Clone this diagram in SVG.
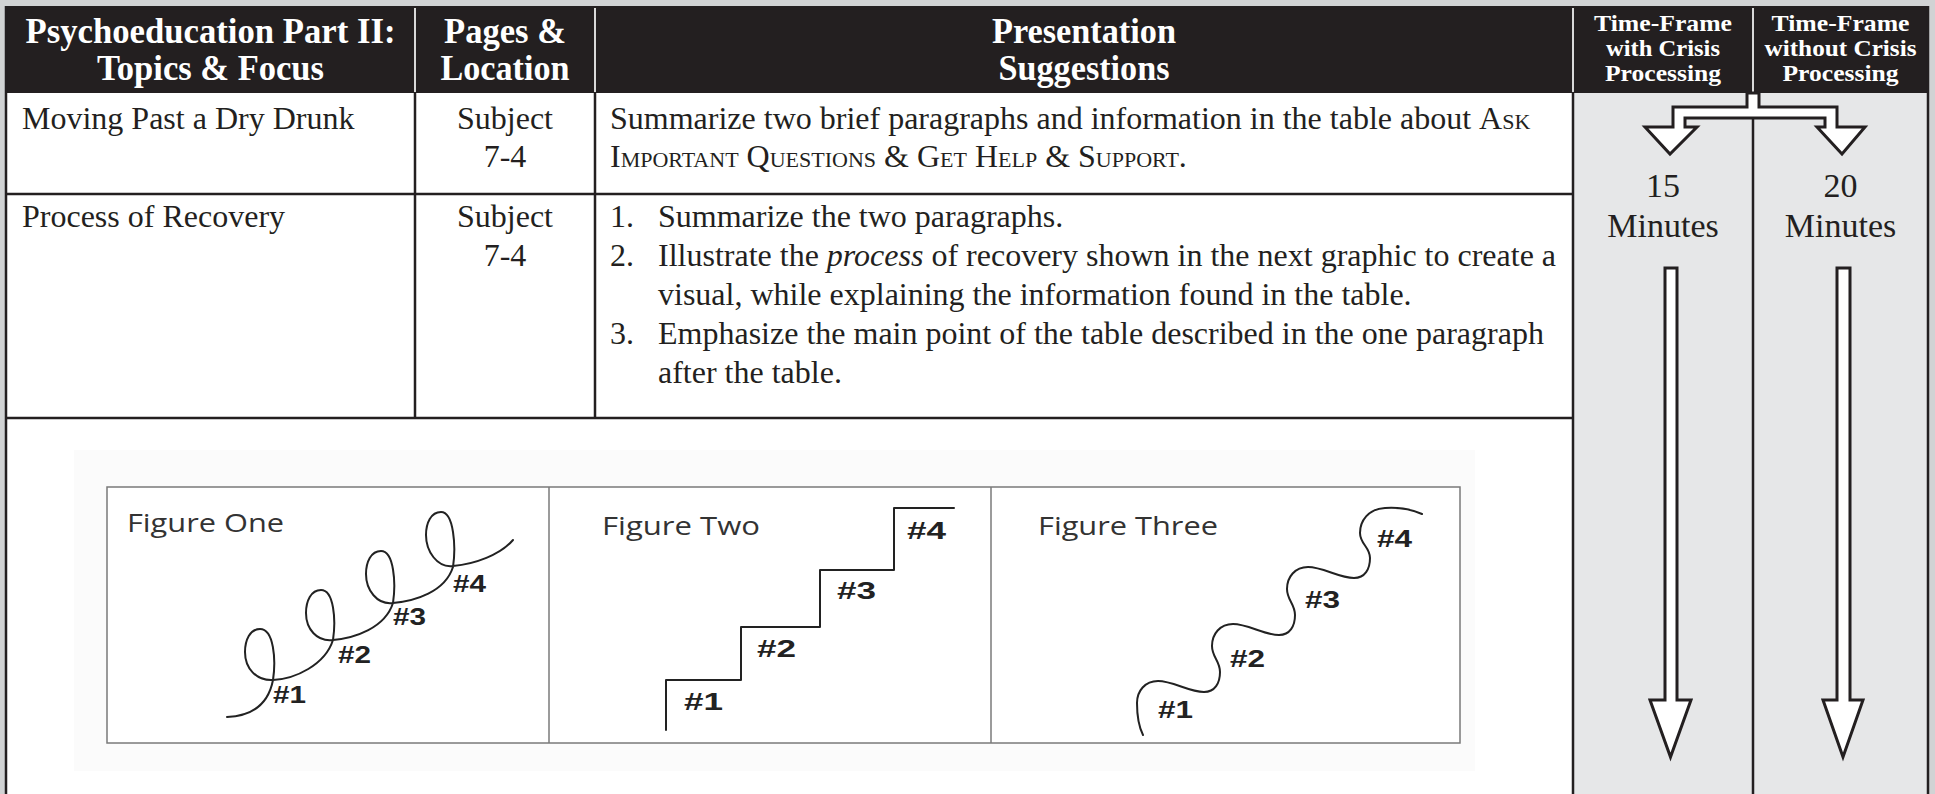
<svg xmlns="http://www.w3.org/2000/svg" width="1935" height="794" viewBox="0 0 1935 794">
  <style>
    .hd { font-family: "Liberation Serif", "Times New Roman", serif; font-weight: bold; fill: #ffffff; text-anchor: middle; }
    .h1 { font-size: 36px; }
    .h2 { font-size: 22.5px; }
    .tx { font-family: "Liberation Serif", "Times New Roman", serif; font-size: 32px; fill: #231f20; }
    .mid { text-anchor: middle; }
    .sc { font-variant: small-caps; }
    .tm { font-family: "Liberation Serif", "Times New Roman", serif; font-size: 34px; fill: #231f20; text-anchor: middle; }
    .grid { stroke: #231f20; stroke-width: 2.5; fill: none; }
    .hsep { stroke: #d9d9d9; stroke-width: 2; }
    .fig { font-family: "Open Sans", "Liberation Sans", sans-serif; font-size: 26px; fill: #333333; }
    .num { font-family: "Liberation Sans", Arial, sans-serif; font-size: 24px; font-weight: bold; fill: #222222; }
    .curve { fill: none; stroke: #222222; stroke-width: 2; stroke-linejoin: round; stroke-linecap: round; }
    .arrow { fill: #ffffff; stroke: #231f20; stroke-width: 3; stroke-linejoin: miter; }
  </style>

  <!-- page background / frame -->
  <rect x="0" y="0" width="1935" height="794" fill="#d1d3d4"/>
  <rect x="6" y="6" width="1922" height="788" fill="#ffffff"/>

  <!-- time-frame columns background -->
  <rect x="1573" y="93" width="355" height="701" fill="#e6e7e8"/>

  <!-- header -->
  <g id="header">
    <rect x="6" y="6" width="1922" height="87" fill="#231f20"/>
    <line class="hsep" x1="415" y1="8" x2="415" y2="92"/>
    <line class="hsep" x1="595" y1="8" x2="595" y2="92"/>
    <line class="hsep" x1="1573" y1="8" x2="1573" y2="92"/>
    <line class="hsep" x1="1753" y1="8" x2="1753" y2="92"/>
    <g id="h-topics">
      <text class="hd h1" x="210.5" y="43" textLength="370" lengthAdjust="spacingAndGlyphs">Psychoeducation Part II:</text>
      <text class="hd h1" x="210.5" y="80" textLength="227" lengthAdjust="spacingAndGlyphs">Topics &amp; Focus</text>
    </g>
    <g id="h-pages">
      <text class="hd h1" x="505" y="43" textLength="122" lengthAdjust="spacingAndGlyphs">Pages &amp;</text>
      <text class="hd h1" x="505" y="80" textLength="129" lengthAdjust="spacingAndGlyphs">Location</text>
    </g>
    <g id="h-presentation">
      <text class="hd h1" x="1084" y="43" textLength="184" lengthAdjust="spacingAndGlyphs">Presentation</text>
      <text class="hd h1" x="1084" y="80" textLength="171" lengthAdjust="spacingAndGlyphs">Suggestions</text>
    </g>
    <g id="h-with">
      <text class="hd h2" x="1663" y="31" textLength="138" lengthAdjust="spacingAndGlyphs">Time-Frame</text>
      <text class="hd h2" x="1663" y="56" textLength="114" lengthAdjust="spacingAndGlyphs">with Crisis</text>
      <text class="hd h2" x="1663" y="81" textLength="116" lengthAdjust="spacingAndGlyphs">Processing</text>
    </g>
    <g id="h-without">
      <text class="hd h2" x="1840.5" y="31" textLength="138" lengthAdjust="spacingAndGlyphs">Time-Frame</text>
      <text class="hd h2" x="1840.5" y="56" textLength="152" lengthAdjust="spacingAndGlyphs">without Crisis</text>
      <text class="hd h2" x="1840.5" y="81" textLength="116" lengthAdjust="spacingAndGlyphs">Processing</text>
    </g>
  </g>

  <!-- grid lines -->
  <g id="grid">
    <line class="grid" x1="6" y1="6" x2="6" y2="794"/>
    <line class="grid" x1="1928" y1="6" x2="1928" y2="794"/>
    <line class="grid" x1="415" y1="93" x2="415" y2="418"/>
    <line class="grid" x1="595" y1="93" x2="595" y2="418"/>
    <line class="grid" x1="1573" y1="93" x2="1573" y2="794"/>
    <line class="grid" x1="1753" y1="93" x2="1753" y2="794"/>
    <line class="grid" x1="6" y1="194" x2="1573" y2="194" stroke-width="3"/>
    <line class="grid" x1="6" y1="418" x2="1573" y2="418" stroke-width="3"/>
  </g>

  <!-- row 1 -->
  <g id="row1-topic">
    <text class="tx" x="22" y="129">Moving Past a Dry Drunk</text>
  </g>
  <g id="row1-pages">
    <text class="tx mid" x="505" y="129">Subject</text>
    <text class="tx mid" x="505" y="167">7-4</text>
  </g>
  <g id="row1-suggestions">
    <text class="tx" x="610" y="129">Summarize two brief paragraphs and information in the table about <tspan class="sc">Ask</tspan></text>
    <text class="tx sc" x="610" y="167">Important Questions &amp; Get Help &amp; Support.</text>
  </g>

  <!-- row 2 -->
  <g id="row2-topic">
    <text class="tx" x="22" y="227">Process of Recovery</text>
  </g>
  <g id="row2-pages">
    <text class="tx mid" x="505" y="227">Subject</text>
    <text class="tx mid" x="505" y="266">7-4</text>
  </g>
  <g id="row2-suggestions">
    <text class="tx" x="610" y="227">1.</text>
    <text class="tx" x="658" y="227">Summarize the two paragraphs.</text>
    <text class="tx" x="610" y="266">2.</text>
    <text class="tx" x="658" y="266">Illustrate the <tspan font-style="italic">process</tspan> of recovery shown in the next graphic to create a</text>
    <text class="tx" x="658" y="305">visual, while explaining the information found in the table.</text>
    <text class="tx" x="610" y="344">3.</text>
    <text class="tx" x="658" y="344">Emphasize the main point of the table described in the one paragraph</text>
    <text class="tx" x="658" y="383">after the table.</text>
  </g>

  <!-- figures -->
  <g id="figures">
    <rect x="74" y="450" width="1401" height="321" fill="#fbfbfb"/>
    <rect x="107" y="487" width="1353" height="256" fill="#ffffff" stroke="#7a7a7a" stroke-width="1.5"/>
    <line x1="549" y1="487" x2="549" y2="743" stroke="#7a7a7a" stroke-width="1.5"/>
    <line x1="991" y1="487" x2="991" y2="743" stroke="#7a7a7a" stroke-width="1.5"/>

    <g id="figure-one">
      <text class="fig" x="127" y="532" textLength="157" lengthAdjust="spacingAndGlyphs">Figure One</text>
      <path class="curve" d="M 227,717 C 250,716 268,706 273,680 C 276,660 274,629 260,629 C 250,629 245,640 245,652 C 245,668 256,681 273,680 C 295,679 325,665 333,640 C 336,620 334,590 321,590 C 311,590 306,601 306,613 C 306,629 317,642 333,640 C 355,638 385,628 393,603 C 396,583 394,551 381,551 C 371,551 366,562 366,574 C 366,590 377,605 393,603 C 415,601 445,592 453,567 C 456,547 454,512 441,512 C 431,512 426,523 426,535 C 426,551 437,568 453,566 C 475,564 500,555 513,540"/>
      <text class="num" x="273" y="703" textLength="33" lengthAdjust="spacingAndGlyphs">#1</text>
      <text class="num" x="338" y="663" textLength="33" lengthAdjust="spacingAndGlyphs">#2</text>
      <text class="num" x="393" y="625" textLength="33" lengthAdjust="spacingAndGlyphs">#3</text>
      <text class="num" x="453" y="592" textLength="33" lengthAdjust="spacingAndGlyphs">#4</text>
    </g>

    <g id="figure-two">
      <text class="fig" x="602" y="535" textLength="158" lengthAdjust="spacingAndGlyphs">Figure Two</text>
      <polyline class="curve" stroke-linejoin="miter" stroke-linecap="butt" points="666,730 666,680 741,680 741,627 820,627 820,570 894,570 894,508 954,508"/>
      <text class="num" x="684" y="710" textLength="39" lengthAdjust="spacingAndGlyphs">#1</text>
      <text class="num" x="757" y="657" textLength="39" lengthAdjust="spacingAndGlyphs">#2</text>
      <text class="num" x="837" y="599" textLength="39" lengthAdjust="spacingAndGlyphs">#3</text>
      <text class="num" x="907" y="539" textLength="39" lengthAdjust="spacingAndGlyphs">#4</text>
    </g>

    <g id="figure-three">
      <text class="fig" x="1038" y="535" textLength="180" lengthAdjust="spacingAndGlyphs">Figure Three</text>
      <path class="curve" d="M 1143,735 C 1138,725 1137,712 1137,703
        C 1137,691 1145,681 1158,681 C 1173,681 1189,692 1204,692 C 1215,692 1220,683 1220,672 C 1220,661 1212,657 1212,646
        C 1212,634 1220,624 1233,624 C 1248,624 1264,635 1279,635 C 1290,635 1295,626 1295,615 C 1295,604 1287,600 1287,589
        C 1287,577 1295,567 1308,567 C 1323,567 1339,578 1354,578 C 1365,578 1370,569 1370,558 C 1370,547 1360,544 1360,533
        C 1360,521 1368,509 1385,508 C 1400,507 1413,510 1422,514"/>
      <text class="num" x="1158" y="718" textLength="35" lengthAdjust="spacingAndGlyphs">#1</text>
      <text class="num" x="1230" y="667" textLength="35" lengthAdjust="spacingAndGlyphs">#2</text>
      <text class="num" x="1305" y="608" textLength="35" lengthAdjust="spacingAndGlyphs">#3</text>
      <text class="num" x="1377" y="547" textLength="35" lengthAdjust="spacingAndGlyphs">#4</text>
    </g>
  </g>

  <!-- time-frame values -->
  <g id="time-with">
    <text class="tm" x="1663" y="197">15</text>
    <text class="tm" x="1663" y="237">Minutes</text>
  </g>
  <g id="time-without">
    <text class="tm" x="1840.5" y="197">20</text>
    <text class="tm" x="1840.5" y="237">Minutes</text>
  </g>

  <!-- connectors -->
  <g id="connectors">
    <polygon class="arrow" points="1747,93 1759,93 1759,107 1837,107 1837,127 1865,127 1842,154 1817,127 1825,127 1825,118 1685,118 1685,127 1697,127 1670,154 1645,127 1673,127 1673,107 1747,107"/>
    <polygon class="arrow" points="1665,268 1677,268 1677,700 1691,700 1670.5,757 1650,700 1665,700"/>
    <polygon class="arrow" points="1837,268 1850,268 1850,700 1863,700 1843,757 1823,700 1837,700"/>
  </g>
</svg>
